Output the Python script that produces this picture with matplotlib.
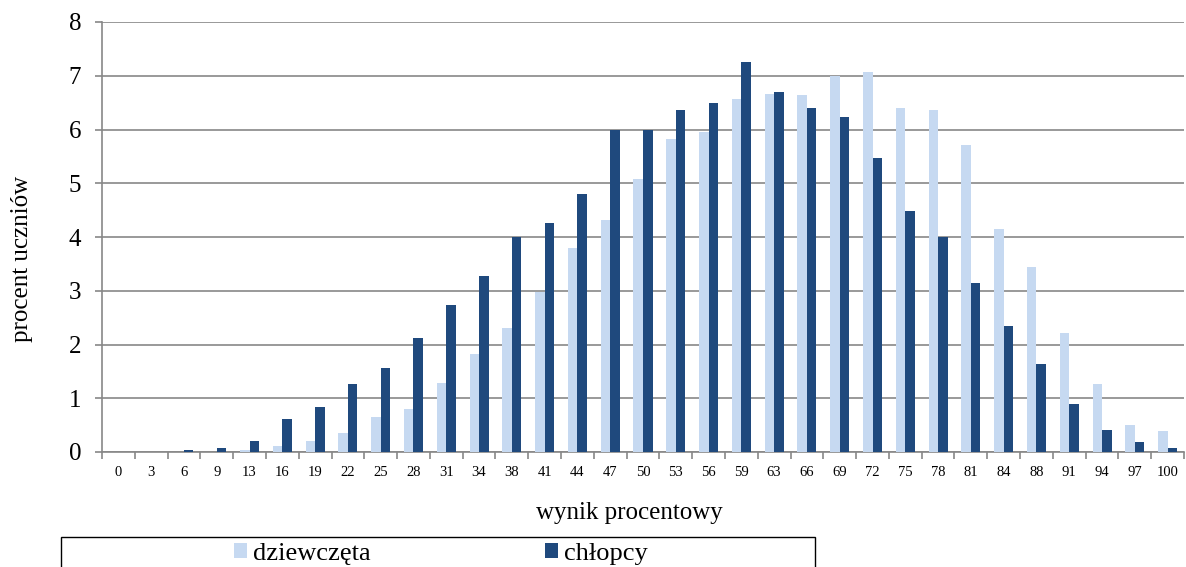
import matplotlib
matplotlib.use("Agg")
import matplotlib.pyplot as plt
from matplotlib.patches import Rectangle
import numpy as np

categories = ["0", "3", "6", "9", "13", "16", "19", "22", "25", "28", "31", "34", "38", "41",
              "44", "47", "50", "53", "56", "59", "63", "66", "69", "72", "75", "78", "81",
              "84", "88", "91", "94", "97", "100"]
dziewczeta = [0, 0, 0, 0, 0.03, 0.12, 0.21, 0.36, 0.65, 0.80, 1.28, 1.83, 2.31, 2.97,
              3.80, 4.32, 5.08, 5.82, 5.96, 6.57, 6.66, 6.65, 7.00, 7.07, 6.40, 6.37, 5.72,
              4.15, 3.45, 2.21, 1.27, 0.50, 0.40]
chlopcy = [0, 0, 0.03, 0.08, 0.20, 0.61, 0.84, 1.27, 1.56, 2.12, 2.74, 3.28, 4.00, 4.26,
           4.80, 6.00, 6.00, 6.37, 6.50, 7.26, 6.70, 6.40, 6.24, 5.47, 4.49, 4.00, 3.15,
           2.35, 1.64, 0.89, 0.41, 0.19, 0.07]
labels = ["dziewczęta", "chłopcy"]

plt.rcParams['font.family'] = ['Liberation Serif', 'DejaVu Serif']

fig = plt.figure(figsize=(11.86, 5.67), dpi=100)
ax = fig.add_axes([102/1186, 1-452/567, (1184-102)/1186, (452-22)/567])

x = np.arange(len(categories))
w = 0.29
light = '#C6D9F1'
dark = '#1F497D'
b1 = ax.bar(x - w/2, dziewczeta, w, color=light, label=labels[0], zorder=3)
b2 = ax.bar(x + w/2, chlopcy, w, color=dark, label=labels[1], zorder=3)

gray = '#878787'
ax.set_xlim(-0.5, len(categories) - 0.5)
ax.set_ylim(0, 8)
ax.set_yticks(range(0, 9))
ax.yaxis.grid(True, color=gray, linewidth=1.2, zorder=0)
ax.set_axisbelow(True)
for s in ['top', 'right']:
    ax.spines[s].set_visible(False)
for s in ['left', 'bottom']:
    ax.spines[s].set_color(gray)
    ax.spines[s].set_linewidth(1.2)

ax.set_xticks(x)
ax.set_xticklabels(categories, fontsize=10.5)
ax.tick_params(axis='x', which='major', length=0, pad=10)
ax.set_xticks(np.arange(-0.5, len(categories), 1.0), minor=True)
ax.tick_params(axis='x', which='minor', length=5, color=gray, width=1.2)
ax.tick_params(axis='y', length=5, color=gray, width=1.2, labelsize=18, pad=10)

ax.set_ylabel("procent uczniów", fontsize=18)
ax.yaxis.set_label_coords(-0.064, 0.45)
ax.set_xlabel("wynik procentowy", fontsize=18)
ax.xaxis.set_label_coords(0.487, -0.117)

fig.legend(handles=[b1, b2], labels=labels, loc='center', bbox_to_anchor=(441/1186, 1-554/567),
           ncol=2, frameon=False, fontsize=19, columnspacing=6.6, handlelength=0.5,
           handleheight=0.5, handletextpad=0.23, borderpad=0, borderaxespad=0)
fig.add_artist(Rectangle((61/1186, -0.05), (815-61)/1186, (567-537)/567 + 0.05,
                         transform=fig.transFigure, fill=False, edgecolor='black', linewidth=1))

fig.savefig("out.png", dpi=100)
